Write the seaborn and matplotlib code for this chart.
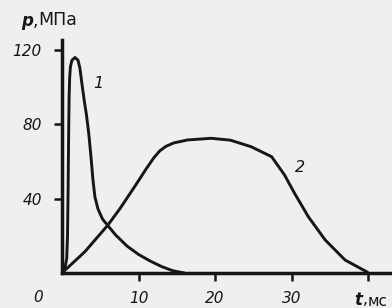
import matplotlib
matplotlib.use("Agg")
import matplotlib.pyplot as plt
import seaborn as sns
import pandas as pd

# Curve 1 (t, ms ; p, MPa)
t1 = [0, 0.4, 0.62, 0.72, 0.8, 0.87, 0.93, 1.0, 1.1, 1.3, 1.7, 2.1, 2.35, 2.6, 2.9, 3.2, 3.5, 3.8, 4.05, 4.3, 4.7, 5.3, 6.0, 7.0, 8.5, 10.0, 11.5, 13.0, 14.5, 16.0]
p1 = [0, 3, 8, 20, 45, 75, 95, 105, 111, 114.5, 116, 114.5, 110, 102, 93, 85, 75, 62, 50, 41, 34.5, 29, 25.5, 20.5, 14.5, 10, 6.5, 3.5, 1.2, 0]

# Curve 2
t2 = [0, 3.0, 6.0, 7.6, 9.5, 11.0, 12.0, 12.8, 13.6, 14.6, 16.4, 19.5, 22.0, 24.7, 27.4, 29.1, 30.4, 32.2, 34.4, 37.0, 39.9, 40.0]
p2 = [0, 11.5, 25.8, 34.8, 46.5, 56, 62, 65.8, 68.2, 70.0, 71.6, 72.5, 71.5, 68, 62.6, 52.7, 42.9, 30.3, 17.8, 7, 0.5, 0]

xticks = [10, 20, 30, 40]
xticklabels = ["10", "20", "30", ""]
yticks = [40, 80, 120]
curve_labels = ["1", "2"]

sns.set_style("ticks")
plt.rcParams['font.family'] = ['DejaVu Sans']

bg = "#efefef"
ink = "#161616"
fig = plt.figure(figsize=(3.92, 3.08), dpi=100, facecolor=bg)
ax = fig.add_axes([62/392, 35/308, 330/392, 238/308])
ax.set_facecolor(bg)

df = pd.concat([
    pd.DataFrame({"t": t1, "p": p1, "curve": curve_labels[0]}),
    pd.DataFrame({"t": t2, "p": p2, "curve": curve_labels[1]}),
])
sns.lineplot(data=df, x="t", y="p", units="curve", estimator=None, sort=False,
             color=ink, linewidth=2.1, ax=ax, legend=False)

ax.set_xlim(0, 330/7.65)
ax.set_ylim(0, 238/1.858)
sns.despine(ax=ax)
for s in ("left", "bottom"):
    ax.spines[s].set_linewidth(2.5)
    ax.spines[s].set_color(ink)
ax.spines["left"].set_bounds(0, 233/1.858)

ax.set_xticks(xticks)
ax.set_yticks(yticks)
ax.set_xticklabels(xticklabels, fontstyle="italic", fontsize=11, color=ink)
ax.set_yticklabels([str(v) for v in yticks], fontstyle="italic", fontsize=11, color=ink)
ax.tick_params(axis="x", direction="out", length=6, width=1.8, pad=7, colors=ink)
ax.tick_params(axis="y", direction="out", length=5.5, width=1.8, pad=9, colors=ink)
ax.set_xlabel("")
ax.set_ylabel("")

# origin label
fig.text(38/392, 1 - 298/308, "0", fontstyle="italic", fontsize=11, color=ink, ha="center", va="center")

# axis titles
fig.text(21/392, 1 - 21/308, "p", fontstyle="italic", fontweight="bold", fontsize=12, color=ink, ha="left", va="center")
fig.text(33/392, 1 - 21/308, ",", fontsize=12, color=ink, ha="left", va="center")
fig.text(38/392, 1 - 20/308, "МПа", fontsize=12.5, color=ink, ha="left", va="center")
fig.text(354/392, 1 - 300/308, "t", fontstyle="italic", fontweight="bold", fontsize=12, color=ink, ha="left", va="center")
fig.text(363/392, 1 - 300/308, ",", fontsize=11, color=ink, ha="left", va="center")
fig.text(368/392, 1 - 301/308, "мс", fontsize=11, color=ink, ha="left", va="center")

# curve labels
ax.text(4.75, 102, curve_labels[0], fontstyle="italic", fontsize=11.5, color=ink, ha="center", va="center")
ax.text(31.1, 57, curve_labels[1], fontstyle="italic", fontsize=11.5, color=ink, ha="center", va="center")

fig.savefig("out.png", dpi=100, facecolor=bg)
